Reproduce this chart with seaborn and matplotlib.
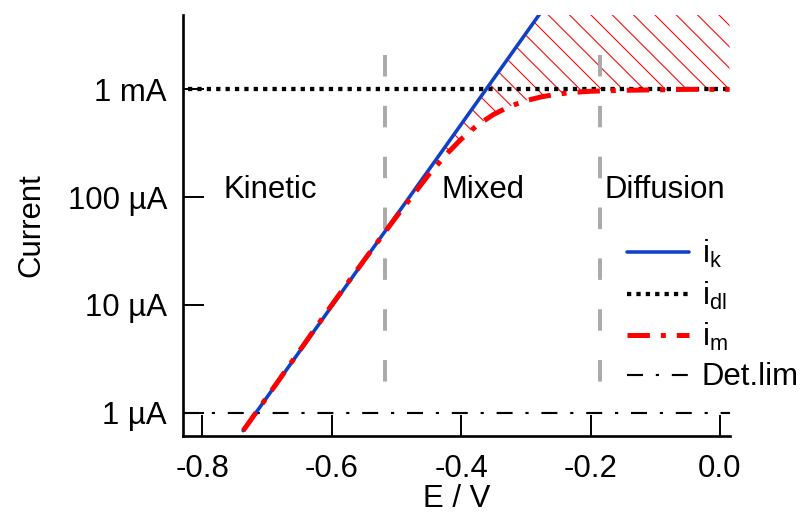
import numpy as np
import pandas as pd
import matplotlib
matplotlib.use("Agg")
import matplotlib.pyplot as plt
import seaborn as sns

# ---- data ----
E_k = [-0.737, 0.015]                  # kinetic (Tafel) line end points, V
I_k = [6.8e-7, 1.5]                    # A (upper end runs past the top of the axes)

E_m = [-0.737, -0.70, -0.60, -0.55, -0.50, -0.45, -0.42, -0.40, -0.375, -0.35,
       -0.325, -0.30, -0.275, -0.25, -0.225, -0.20, -0.15, -0.10, -0.05, 0.015]
I_m = [6.8e-7, 1.4e-6, 1.0e-5, 2.6e-5, 6.6e-5, 1.62e-4, 2.6e-4, 3.45e-4, 4.65e-4, 5.85e-4,
       6.95e-4, 7.85e-4, 8.55e-4, 9.05e-4, 9.4e-4, 9.6e-4, 9.8e-4, 9.9e-4, 1.0e-3, 1.0e-3]

E_dl = [-0.822, 0.015]
I_dl = [1.0e-3, 1.0e-3]

det_lim = 1.0e-6
region_bounds = [-0.517, -0.186]
region_names = ["Kinetic", "Mixed", "Diffusion"]
region_label_x = [-0.695, -0.366, -0.085]
region_label_y = 1.17e-4

ytick_vals = [1e-6, 1e-5, 1e-4, 1e-3]
ytick_labels = ["1 µA", "10 µA", "100 µA", "1 mA"]
xtick_vals = [-0.8, -0.6, -0.4, -0.2, 0.0]
xtick_labels = ["-0.8", "-0.6", "-0.4", "-0.2", "0.0"]

# ---- style ----
sns.set_theme(style="white")
plt.rcParams["font.family"] = ["Liberation Sans", "DejaVu Sans"]
plt.rcParams["mathtext.fontset"] = "custom"
plt.rcParams["mathtext.rm"] = "Liberation Sans"
plt.rcParams["mathtext.it"] = "Liberation Sans"
plt.rcParams["hatch.linewidth"] = 0.6
plt.rcParams["text.color"] = "black"
plt.rcParams["axes.labelcolor"] = "black"
FS = 17.5

DPI = 128
fig = plt.figure(figsize=(806 / DPI, 513 / DPI), dpi=DPI)
ax = fig.add_axes([183 / 806, 1 - 436 / 513, (730 - 183) / 806, (436 - 15) / 513])
ax.set_yscale("log")

blue = "#1040C8"
red = "#FF0000"

# hatched region between kinetic line and measured current
poly_x = list(E_k) + list(E_m[::-1])
poly_y = list(I_k) + list(I_m[::-1])
ax.fill(poly_x, poly_y, facecolor="none", edgecolor=red, linewidth=0,
        hatch="\\\\", zorder=1)

# region separators
for xb in region_bounds:
    ax.plot([xb, xb], [2.1e-3, 1.6e-6], color="#AAAAAA", lw=2.2,
            linestyle=(0, (5.5, 7.5)), zorder=2)

# detection limit
det_line = ax.axhline(det_lim, color="black", lw=1.2,
                      linestyle=(0, (7.5, 6, 1.5, 6)), zorder=3)

df_k = pd.DataFrame({"E": E_k, "I": I_k})
df_m = pd.DataFrame({"E": E_m, "I": I_m})
df_dl = pd.DataFrame({"E": E_dl, "I": I_dl})

sns.lineplot(data=df_dl, x="E", y="I", ax=ax, color="black", lw=2.4,
             linestyle=(0, (1, 1.2)), zorder=4)
sns.lineplot(data=df_k, x="E", y="I", ax=ax, color=blue, lw=2.0, zorder=5)
sns.lineplot(data=df_m, x="E", y="I", ax=ax, color=red, lw=2.8,
             linestyle=(0, (4.5, 2.2, 1, 2.2)), zorder=6)

lines = ax.get_lines()
h_dl, h_k, h_m = lines[-3], lines[-2], lines[-1]

for name, xl in zip(region_names, region_label_x):
    ax.text(xl, region_label_y, name, ha="center", va="center", fontsize=FS,
            color="black")

ax.set_xlim(-0.830, 0.0156)
ax.set_ylim(6.07e-7, 4.9e-3)
ax.set_xticks(xtick_vals)
ax.set_xticklabels(xtick_labels)
ax.set_yticks(ytick_vals)
ax.set_yticklabels(ytick_labels)
ax.yaxis.set_minor_locator(matplotlib.ticker.NullLocator())
ax.tick_params(axis="both", which="major", direction="in", length=12, width=1.1,
               labelsize=FS, colors="black", pad=9, bottom=True, left=True)
ax.tick_params(axis="x", pad=10)
for s in ["top", "right"]:
    ax.spines[s].set_visible(False)
for s in ["left", "bottom"]:
    ax.spines[s].set_color("black")
    ax.spines[s].set_linewidth(1.5)

ax.set_xlabel("E / V", fontsize=FS, labelpad=0)
ax.set_ylabel("Current", fontsize=FS, labelpad=12)
ax.grid(False)

leg = ax.legend([h_k, h_dl, h_m, det_line],
                [r"$\mathregular{i_k}$", r"$\mathregular{i_{dl}}$",
                 r"$\mathregular{i_m}$", "Det.lim"],
                loc="upper left", bbox_to_anchor=(0.812, 0.47), frameon=False,
                fontsize=FS, handlelength=2.0, handletextpad=0.4,
                labelspacing=0.3, borderpad=0, borderaxespad=0)

fig.savefig("out.png", dpi=DPI)
